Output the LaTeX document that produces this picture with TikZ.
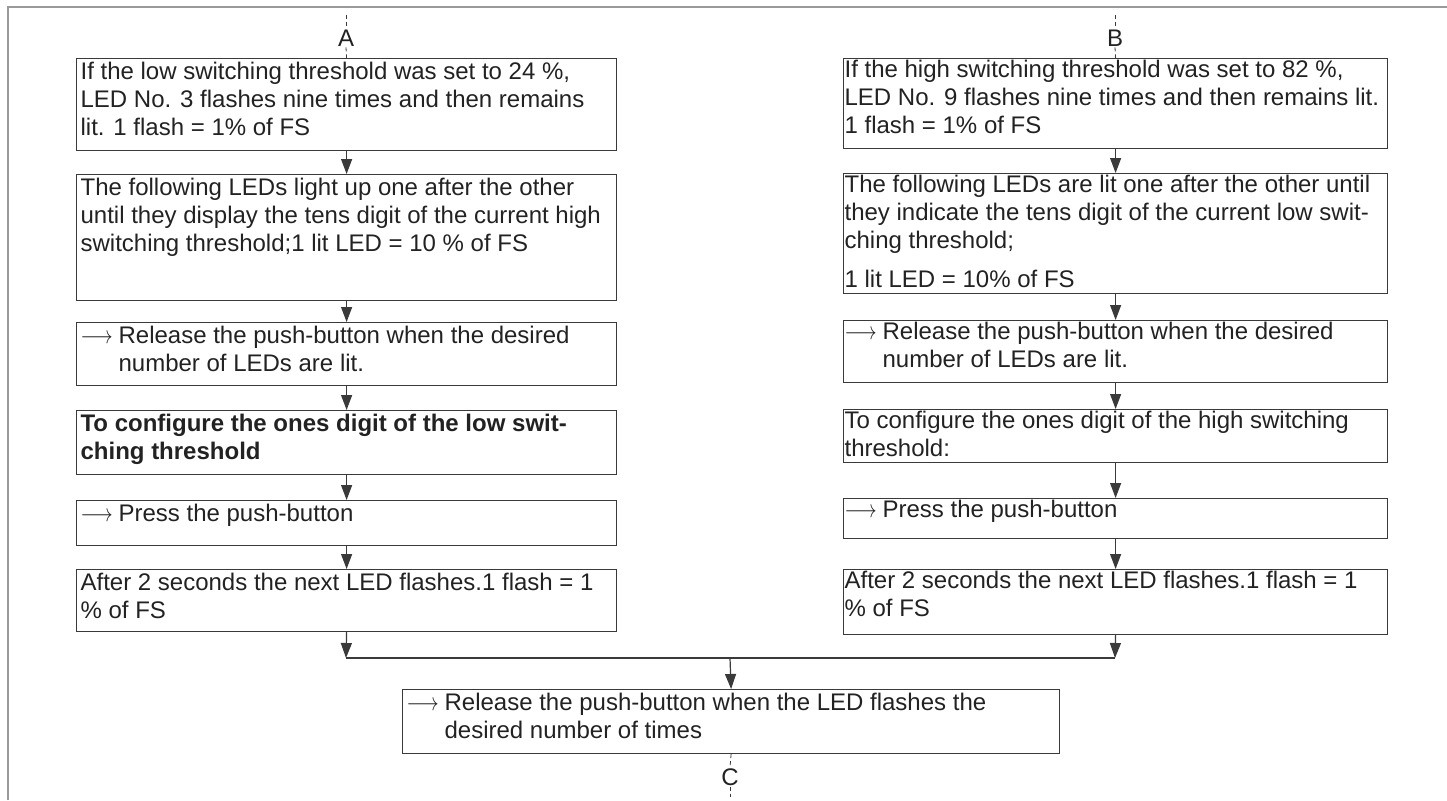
\documentclass[tikz,border=0pt]{standalone}
\usepackage{fontspec}
\setmainfont{Liberation Sans}
\usepackage{tikz}
\usetikzlibrary{arrows.meta, positioning}

\definecolor{boxline}{HTML}{3A3A3A}
\definecolor{boxtext}{HTML}{222222}
\definecolor{framegray}{HTML}{9A9A9A}

\newcommand{\flowfont}{\fontsize{24pt}{27.6pt}\selectfont}
\newcommand{\steptext}[3]{\parbox[t][#2pt][t]{#1pt}{\strut #3}}
\newcommand{\actarrow}{\hangindent=38pt\hangafter=1\makebox[38pt][l]{\scalebox{0.8}[1]{$\longrightarrow$}}}

\tikzset{
    stepbox/.style={draw=boxline, line width=1.2pt, anchor=north west, inner xsep=4pt, inner ysep=2pt, text=boxtext, font=\flowfont},
    stepboxr/.style={stepbox, inner xsep=1pt, inner ysep=0pt},
    flag/.style={inner sep=1pt, text=boxtext, font=\flowfont},
    flow/.style={draw=boxline, line width=1.2pt, -{Triangle[length=15pt,width=11pt]}},
    joiner/.style={draw=boxline, line width=0.8pt, dash pattern=on 4pt off 3pt}
}

\begin{document}
\begin{tikzpicture}[x=1pt, y=-1pt]
        \useasboundingbox (0,0) rectangle (1447,800);
        \draw[framegray, line width=1.5pt] (8,800) -- (8,7) -- (1447,7);

        % left branch
        \node[flag] (a) at (346,38) {A};
        \node[stepbox] (l1) at (76,58) {\steptext{532}{88}{If the low switching threshold was set to 24 \%,\\ LED No. 3 flashes nine times and then remains\\ lit. 1 flash = 1\% of FS}};
        \node[stepbox] (l2) at (76,174) {\steptext{532}{122}{The following LEDs light up one after the other\\ until they display the tens digit of the current high\\ switching threshold;1 lit LED = 10 \% of FS}};
        \node[stepbox] (l3) at (76,322) {\steptext{532}{59}{\actarrow Release the push-button when the desired\\ number of LEDs are lit.}};
        \node[stepbox] (l4) at (76,410) {\steptext{532}{60}{\textbf{To configure the ones digit of the low swit-\\ ching threshold}}};
        \node[stepbox] (l5) at (76,500) {\steptext{532}{41}{\actarrow Press the push-button}};
        \node[stepbox] (l6) at (76,569) {\steptext{532}{58}{After 2 seconds the next LED flashes.1 flash = 1\\ \% of FS}};

        % right branch
        \node[flag] (b) at (1115,38) {B};
        \node[stepboxr] (r1) at (843,58) {\steptext{542}{90}{If the high switching threshold was set to 82 \%,\\ LED No. 9 flashes nine times and then remains lit.\\ 1 flash = 1\% of FS}};
        \node[stepboxr] (r2) at (843,173) {\steptext{542}{120}{The following LEDs are lit one after the other until\\ they indicate the tens digit of the current low swit-\\ ching threshold;\par\vspace{12pt}\strut 1 lit LED = 10\% of FS}};
        \node[stepboxr] (r3) at (843,320) {\steptext{542}{62}{\actarrow Release the push-button when the desired\\ number of LEDs are lit.}};
        \node[stepboxr] (r4) at (843,409) {\steptext{542}{53}{To configure the ones digit of the high switching\\ threshold:}};
        \node[stepboxr] (r5) at (843,498) {\steptext{542}{40}{\actarrow Press the push-button}};
        \node[stepboxr] (r6) at (843,569) {\steptext{542}{65}{After 2 seconds the next LED flashes.1 flash = 1\\ \% of FS}};

        % merge
        \coordinate (ml) at (346,658);
        \coordinate (mr) at (1115,658);
        \coordinate (mc) at (730,658);
        \node[stepbox] (c) at (402,689) {\steptext{649}{60}{\actarrow Release the push-button when the LED flashes the\\ desired number of times}};
        \node[flag] (cl) at (730,777) {C};

        \coordinate (atop) at (346,15);
        \coordinate (btop) at (1115,15);
        \coordinate (cend) at (730,797);
        \draw[joiner] (atop) -- (a.north);
        \draw[joiner] (a.south) -- (l1.north);
        \draw[joiner] (btop) -- (b.north);
        \draw[joiner] (b.south) -- (r1.north);
        \draw[joiner] (c.south) -- (cl.north);
        \draw[joiner] (cl.south) -- (cend);

        \draw[flow] (l1.south) -- (l2.north);
        \draw[flow] (l2.south) -- (l3.north);
        \draw[flow] (l3.south) -- (l4.north);
        \draw[flow] (l4.south) -- (l5.north);
        \draw[flow] (l5.south) -- (l6.north);
        \draw[flow] (l6.south) -- (ml);
        \draw[flow] (r1.south) -- (r2.north);
        \draw[flow] (r2.south) -- (r3.north);
        \draw[flow] (r3.south) -- (r4.north);
        \draw[flow] (r4.south) -- (r5.north);
        \draw[flow] (r5.south) -- (r6.north);
        \draw[flow] (r6.south) -- (mr);
        \draw[draw=boxline, line width=1.2pt] (ml) -- (mr);
        \draw[flow] (mc) -- (c.north);
    \end{tikzpicture}
\end{document}
